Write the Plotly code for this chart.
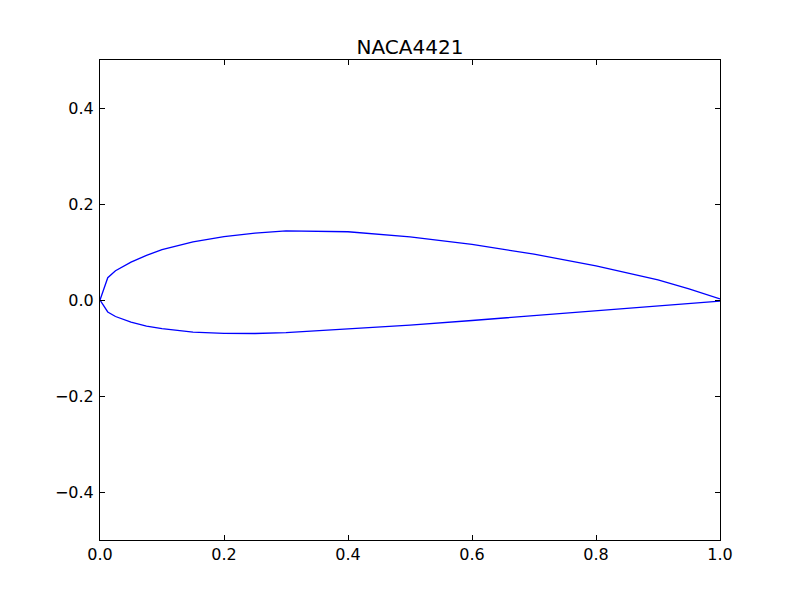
import plotly.graph_objects as go

# Upper surface (trailing edge -> leading edge)
upper_x = [1.0, 0.95, 0.9, 0.8, 0.7, 0.6, 0.5, 0.4, 0.3, 0.25, 0.2, 0.15, 0.1, 0.075, 0.05, 0.025, 0.0125, 0.0]
upper_y = [0.0022, 0.0230, 0.0417, 0.0713, 0.0955, 0.1160, 0.1315, 0.1422, 0.1440, 0.1395, 0.1320, 0.1210, 0.1050, 0.0930, 0.0790, 0.0610, 0.0465, 0.0]
# Lower surface (leading edge -> trailing edge)
lower_x = [0.0125, 0.025, 0.05, 0.075, 0.1, 0.15, 0.2, 0.25, 0.3, 0.4, 0.5, 0.6, 0.7, 0.8, 0.9, 0.95, 1.0]
lower_y = [-0.0249, -0.0344, -0.0463, -0.0542, -0.0598, -0.0669, -0.0697, -0.0698, -0.0679, -0.0608, -0.0523, -0.0427, -0.0325, -0.0222, -0.0120, -0.0071, -0.0022]

x_ticks = [0.0, 0.2, 0.4, 0.6, 0.8, 1.0]
y_ticks = [-0.4, -0.2, 0.0, 0.2, 0.4]

xs = upper_x + lower_x
ys = upper_y + lower_y

fig = go.Figure()
fig.add_trace(go.Scatter(x=xs, y=ys, mode="lines",
                         line=dict(color="#0000ff", width=1.3),
                         showlegend=False, hoverinfo="skip"))

axis_common = dict(showgrid=False, zeroline=False, showline=True, mirror="ticks",
                   linecolor="black", linewidth=1, ticks="inside", ticklen=5,
                   tickcolor="black", tickwidth=1, tickformat=".1f",
                   tickfont=dict(family="DejaVu Sans", size=16, color="black"))

fig.update_layout(
    width=800, height=600,
    margin=dict(l=92, r=88, t=52, b=68),
    paper_bgcolor="white", plot_bgcolor="white",
    title=dict(text="NACA4421", x=0.5, xref="paper", xanchor="center",
               y=1, yref="paper", yanchor="bottom", pad=dict(b=6),
               font=dict(family="DejaVu Sans", size=20, color="black")),
    xaxis=dict(range=[0, 1], tickvals=x_ticks, **axis_common),
    yaxis=dict(range=[-0.5, 0.5], tickvals=y_ticks, ticklabelstandoff=2, **axis_common),
    font=dict(family="DejaVu Sans"),
)

fig.write_html("out.html")
